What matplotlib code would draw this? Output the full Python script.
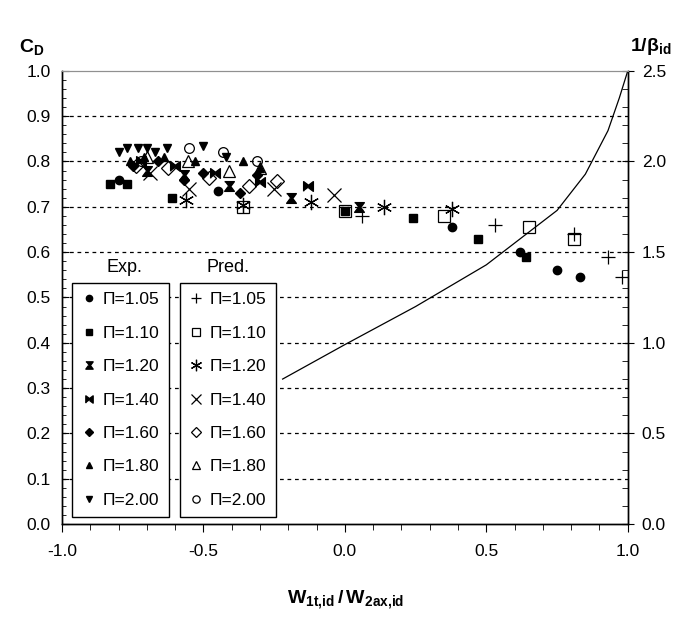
import numpy as np
import matplotlib
matplotlib.use("Agg")
import matplotlib.pyplot as plt
from matplotlib.ticker import MultipleLocator

plt.rcParams['font.family'] = ['Liberation Sans', 'DejaVu Sans']
plt.rcParams['mathtext.fontset'] = 'custom'
plt.rcParams['mathtext.rm'] = 'Liberation Sans'
plt.rcParams['mathtext.bf'] = 'Liberation Sans:bold'

pi_labels = ['1.05', '1.10', '1.20', '1.40', '1.60', '1.80', '2.00']

# experimental C_D (filled markers)
exp_x = {
    '1.05': [-0.80, -0.45, 0.38, 0.62, 0.75, 0.83],
    '1.10': [-0.83, -0.77, -0.61, 0.0, 0.24, 0.47, 0.64],
    '1.20': [-0.70, -0.57, -0.41, -0.19, 0.05],
    '1.40': [-0.72, -0.60, -0.46, -0.30, -0.13],
    '1.60': [-0.75, -0.66, -0.57, -0.50, -0.37, -0.31],
    '1.80': [-0.76, -0.71, -0.64, -0.53, -0.36, -0.30],
    '2.00': [-0.80, -0.77, -0.73, -0.70, -0.67, -0.63, -0.50, -0.42],
}
exp_cd = {
    '1.05': [0.76, 0.735, 0.655, 0.60, 0.56, 0.545],
    '1.10': [0.75, 0.75, 0.72, 0.69, 0.675, 0.63, 0.59],
    '1.20': [0.78, 0.77, 0.745, 0.72, 0.70],
    '1.40': [0.80, 0.79, 0.775, 0.755, 0.745],
    '1.60': [0.79, 0.80, 0.76, 0.775, 0.73, 0.77],
    '1.80': [0.80, 0.81, 0.81, 0.80, 0.80, 0.785],
    '2.00': [0.82, 0.83, 0.83, 0.83, 0.82, 0.83, 0.835, 0.81],
}

# predicted C_D (open markers)
pred_x = {
    '1.05': [0.06, 0.53, 0.81, 0.93, 0.98],
    '1.10': [-0.36, 0.0, 0.35, 0.65, 0.81],
    '1.20': [-0.56, -0.36, -0.12, 0.14, 0.38],
    '1.40': [-0.69, -0.55, -0.25, -0.04],
    '1.60': [-0.74, -0.625, -0.48, -0.34, -0.24],
    '1.80': [-0.70, -0.555, -0.41, -0.30],
    '2.00': [-0.72, -0.55, -0.43, -0.31],
}
pred_cd = {
    '1.05': [0.68, 0.66, 0.64, 0.59, 0.545],
    '1.10': [0.70, 0.69, 0.68, 0.655, 0.63],
    '1.20': [0.715, 0.705, 0.71, 0.70, 0.695],
    '1.40': [0.775, 0.74, 0.74, 0.725],
    '1.60': [0.79, 0.785, 0.763, 0.745, 0.757],
    '1.80': [0.81, 0.80, 0.78, 0.785],
    '2.00': [0.80, 0.83, 0.82, 0.80],
}

# 1/beta_id curve (right axis)
beta_x = [-0.22, 0.0, 0.25, 0.5, 0.75, 0.85, 0.93, 0.97, 1.0]
beta_inv = [0.80, 0.99, 1.20, 1.43, 1.73, 1.93, 2.17, 2.35, 2.5]

hourglass = [(-1, 1), (1, 1), (0.25, 0), (1, -1), (-1, -1), (-0.25, 0)]
bowtie = [(-1, -1), (-1, 1), (0, 0.25), (1, 1), (1, -1), (0, -0.25)]

exp_markers = ['o', 's', hourglass, bowtie, 'D', '^', 'v']
exp_sizes = [6, 6, 7, 7, 5, 6, 6]
pred_markers = ['+', 's', (6, 2, 0), 'x', 'D', '^', 'o']
pred_sizes = [10, 8, 11, 10, 7, 8, 7]

fig = plt.figure(figsize=(6.96, 6.21), dpi=100)
ax = fig.add_axes([0.089, 0.156, 0.813, 0.730])
ax2 = ax.twinx()

exp_handles = []
pred_handles = []
for i, p in enumerate(pi_labels):
    h, = ax.plot(exp_x[p], exp_cd[p], linestyle='none', marker=exp_markers[i],
                 ms=exp_sizes[i], color='black', mfc='black', mec='black',
                 label='Π=' + p)
    exp_handles.append(h)
for i, p in enumerate(pi_labels):
    h, = ax.plot(pred_x[p], pred_cd[p], linestyle='none', marker=pred_markers[i],
                 ms=pred_sizes[i], color='black', mfc='none', mec='black',
                 mew=0.9, label='Π=' + p)
    pred_handles.append(h)

ax2.plot(beta_x, beta_inv, color='black', lw=0.9)

ax.set_xlim(-1.0, 1.0)
ax.set_ylim(0.0, 1.0)
ax2.set_ylim(0.0, 2.5)

for yv in np.arange(0.1, 0.95, 0.1):
    ax.axhline(yv, color='black', lw=0.9, ls=(0, (3, 3)), zorder=0)

ax.xaxis.set_major_locator(MultipleLocator(0.5))
ax.xaxis.set_minor_locator(MultipleLocator(0.1))
ax.yaxis.set_major_locator(MultipleLocator(0.1))
ax.yaxis.set_minor_locator(MultipleLocator(0.02))
ax2.yaxis.set_major_locator(MultipleLocator(0.5))
ax2.yaxis.set_minor_locator(MultipleLocator(0.1))
ax.xaxis.set_major_formatter(plt.FormatStrFormatter('%.1f'))
ax.yaxis.set_major_formatter(plt.FormatStrFormatter('%.1f'))
ax2.yaxis.set_major_formatter(plt.FormatStrFormatter('%.1f'))

ax.tick_params(axis='x', which='major', direction='out', length=6, labelsize=12.5, pad=8)
ax.tick_params(axis='x', which='minor', direction='out', length=4)
ax.tick_params(axis='y', which='major', direction='in', length=5, labelsize=12.5, pad=8)
ax.tick_params(axis='y', which='minor', direction='in', length=3)
ax2.tick_params(axis='y', which='major', direction='inout', length=8, labelsize=12.5, pad=6)
ax2.tick_params(axis='y', which='minor', direction='in', length=4)
for a in (ax, ax2):
    a.spines['top'].set_color('#909090')
    for s in ('left', 'right', 'bottom'):
        a.spines[s].set_linewidth(1.0)

leg_kw = dict(loc='lower left', fontsize=12.5, frameon=True, fancybox=False,
              edgecolor='black', framealpha=1, handlelength=0.8,
              handletextpad=0.4, labelspacing=1.05, borderpad=0.55,
              borderaxespad=0, numpoints=1, markerscale=0.75)
leg1 = ax2.legend(handles=exp_handles, bbox_to_anchor=(0.018, 0.015), **leg_kw)
leg1.get_frame().set_linewidth(1.0)
ax2.add_artist(leg1)
leg2 = ax2.legend(handles=pred_handles, bbox_to_anchor=(0.208, 0.015), **leg_kw)
leg2.get_frame().set_linewidth(1.0)

ax.text(0.11, 0.565, 'Exp.', transform=ax.transAxes, ha='center', va='center', fontsize=13)
ax.text(0.293, 0.565, 'Pred.', transform=ax.transAxes, ha='center', va='center', fontsize=13)

fig.text(0.045, 0.925, r'$\mathbf{C_D}$', fontsize=14, ha='center', va='center')
fig.text(0.935, 0.925, r'$\mathbf{1/\beta_{id}}$', fontsize=14, ha='center', va='center')
fig.text(0.497, 0.035, r'$\mathbf{W_{1t{,}id}\,/\,W_{2ax{,}id}}$', fontsize=14,
         ha='center', va='center')

fig.savefig('out.png', dpi=100)
